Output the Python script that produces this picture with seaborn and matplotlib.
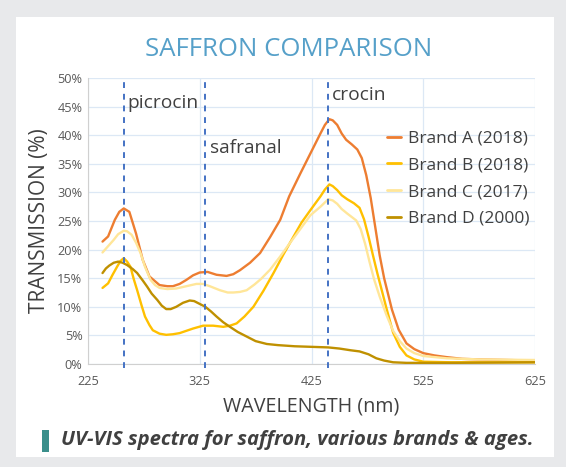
import pandas as pd
import matplotlib.pyplot as plt
import seaborn as sns
from matplotlib.patches import Rectangle

# UV-VIS spectra (nm, % transmission)
a_nm = [238, 243, 249, 253, 257, 262, 268, 274, 280, 289, 296, 301, 307, 313, 319, 325, 332, 340, 349, 355,
        361, 370, 379, 388, 397, 405, 415, 424, 433, 437, 441, 444, 448, 452, 456, 461, 466, 470, 474, 478, 482,
        486, 490, 497, 503, 510, 517, 525, 535, 546, 560, 575, 600, 625]
a_val = [21.4, 22.3, 25.2, 26.6, 27.2, 26.6, 22.8, 18.2, 15.3, 13.8, 13.6, 13.6, 14.0, 14.7, 15.5, 16.0, 16.1, 15.6, 15.4, 15.7,
         16.4, 17.7, 19.4, 22.2, 25.2, 29.3, 33.3, 36.8, 40.3, 41.8, 42.8, 42.6, 41.8, 40.3, 39.2, 38.4, 37.5, 36.0, 33.0, 29.0, 24.0,
         19.0, 15.0, 9.5, 6.0, 3.6, 2.6, 1.9, 1.5, 1.2, 0.9, 0.8, 0.7, 0.6]

b_nm = [238, 243, 247, 251, 254, 257, 260, 263, 266, 269, 273, 276, 280, 283, 289, 295, 301, 307, 313, 319,
        328, 337, 346, 352, 358, 365, 373, 382, 391, 400, 409, 416, 424, 433, 437, 441, 444, 448, 452, 457,
        463, 468, 472, 476, 480, 484, 488, 492, 498, 504, 510, 517, 525, 550, 625]
b_val = [13.3, 14.1, 15.6, 17.0, 18.0, 18.5, 17.9, 17.0, 14.8, 12.9, 10.2, 8.3, 6.8, 5.9, 5.3, 5.1, 5.2, 5.4, 5.8, 6.2,
         6.7, 6.7, 6.5, 6.7, 7.1, 8.3, 10.0, 12.8, 15.9, 19.2, 22.3, 24.7, 26.9, 29.3, 30.5, 31.4, 31.1, 30.4, 29.5, 28.8,
         28.1, 27.3, 25.3, 22.3, 19.0, 15.8, 12.8, 9.8, 5.5, 3.0, 1.5, 0.8, 0.4, 0.3, 0.3]

c_nm = [238, 243, 248, 252, 257, 260, 264, 268, 272, 276, 281, 285, 289, 296, 304, 313, 322, 328, 334, 343,
        350, 355, 361, 367, 374, 380, 388, 397, 404, 412, 418, 424, 433, 440, 444, 448, 452, 457, 465, 469,
        473, 477, 481, 486, 492, 498, 504, 510, 517, 525, 546, 575, 625]
c_val = [19.5, 20.6, 21.7, 22.7, 23.3, 23.2, 22.6, 21.2, 19.4, 17.0, 14.7, 13.8, 13.3, 13.1, 13.2, 13.6, 14.0, 14.0, 13.6, 12.9,
         12.5, 12.5, 12.6, 12.9, 13.9, 14.9, 16.5, 18.8, 20.7, 22.8, 24.4, 26.0, 27.5, 28.8, 28.6, 28.0, 27.1, 26.3, 25.1, 23.6,
         21.0, 17.8, 14.8, 11.8, 8.6, 5.8, 4.0, 2.7, 1.9, 1.4, 1.0, 0.8, 0.7]

d_nm = [238, 241, 244, 248, 252, 256, 260, 265, 269, 274, 278, 282, 287, 291, 295, 299, 304, 310, 316, 320,
        325, 330, 335, 340, 346, 352, 359, 367, 375, 385, 395, 410, 425, 440, 450, 460, 468, 476, 483, 490,
        498, 510, 550, 625]
d_val = [15.9, 16.7, 17.2, 17.7, 17.9, 17.7, 17.3, 16.6, 15.9, 14.6, 13.5, 12.3, 11.2, 10.2, 9.6, 9.6, 10.0, 10.7, 11.1, 11.0,
         10.5, 10.0, 9.2, 8.3, 7.3, 6.5, 5.6, 4.8, 4.0, 3.5, 3.3, 3.1, 3.0, 2.9, 2.7, 2.4, 2.2, 1.7, 1.0, 0.6,
         0.3, 0.2, 0.2, 0.3]

brands = ["Brand A (2018)", "Brand B (2018)", "Brand C (2017)", "Brand D (2000)"]
colors = ["#ed7d31", "#ffc000", "#ffe699", "#bf9000"]

peaks = {"picrocin": 257, "safranal": 330, "crocin": 440}
peak_label_pos = {"picrocin": (260, 45.6), "safranal": (334, 37.8), "crocin": (443, 47.0)}

frames = []
for name, xs, ys in zip(brands, [a_nm, b_nm, c_nm, d_nm], [a_val, b_val, c_val, d_val]):
    frames.append(pd.DataFrame({"nm": xs, "val": ys, "brand": name}))
df = pd.concat(frames, ignore_index=True)

sns.set_style("white")
plt.rcParams["font.family"] = ["Open Sans", "DejaVu Sans"]

fig = plt.figure(figsize=(5.66, 4.67), dpi=100, facecolor="#e8e9eb")
fig.patches.append(Rectangle((16 / 566, 1 - 457 / 467), 538 / 566, 440 / 467,
                             transform=fig.transFigure, facecolor="white", edgecolor="none", zorder=-5))

ax = fig.add_axes([88 / 566, 1 - 364 / 467, 447 / 566, 286 / 467])
ax.set_facecolor("white")

sns.lineplot(data=df, x="nm", y="val", hue="brand", palette=colors, hue_order=brands,
             sort=False, estimator=None, linewidth=1.7, ax=ax, zorder=3)
for ln in ax.get_lines():
    ln.set_solid_joinstyle("round")

for name, x in peaks.items():
    ax.axvline(x, ymin=-0.015, ymax=1, color="#4472c4", linestyle=(0, (3, 3)),
               linewidth=1.4, zorder=4, clip_on=False)
    tx, ty = peak_label_pos[name]
    ax.text(tx, ty, name, fontsize=13.8, color="#404040", va="center", ha="left")

ax.set_xlim(225, 625)
ax.set_ylim(0, 50)
ax.set_xticks([225, 325, 425, 525, 625])
ax.set_yticks(range(0, 51, 5))
ax.set_yticklabels([f"{v}%" for v in range(0, 51, 5)])
ax.grid(True, color="#dce8f5", linewidth=0.9)
ax.tick_params(axis="both", labelsize=9.2, colors="#595959", length=0)
ax.tick_params(axis="x", pad=8)
ax.tick_params(axis="y", pad=4)
for s in ["top", "right"]:
    ax.spines[s].set_visible(False)
for s in ["left", "bottom"]:
    ax.spines[s].set_color("#d0d0d0")

ax.set_xlabel("WAVELENGTH (nm)", fontsize=14.2, color="#404040", labelpad=6)
ax.set_ylabel("TRANSMISSION (%)", fontsize=15, color="#404040", labelpad=5)

leg = ax.legend(loc="upper left", bbox_to_anchor=(0.635, 0.87), frameon=False,
                fontsize=12.5, handlelength=0.8, handletextpad=0.4, labelspacing=0.6,
                labelcolor="#404040")
for line in leg.get_lines():
    line.set_linewidth(2)

fig.text(289 / 566, 1 - 49 / 467, "SAFFRON COMPARISON", fontsize=18.5, color="#56a0c9",
         ha="center", va="center")

fig.patches.append(Rectangle((42 / 566, 1 - 452 / 467), 7 / 566, 22 / 467,
                             transform=fig.transFigure, facecolor="#3a8f8b", edgecolor="none"))
fig.text(61 / 566, 1 - 440 / 467, "UV-VIS spectra for saffron, various brands & ages.",
         fontsize=14.6, color="#404040", fontweight="bold", fontstyle="italic",
         ha="left", va="center")

fig.savefig("out.png", dpi=100, facecolor=fig.get_facecolor())
